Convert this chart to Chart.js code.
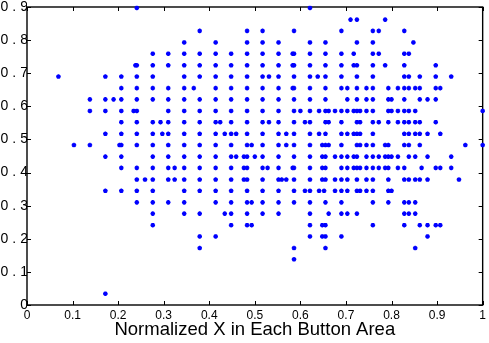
<!DOCTYPE html>
<html>
<head>
<meta charset="utf-8">
<script src="https://cdn.jsdelivr.net/npm/chart.js@4"></script>
<style>
    html, body { margin: 0; padding: 0; background: #fff; overflow: hidden; }
    #wrap { position: absolute; left: -12px; top: 0; }
</style>
</head>
<body>
<div id="wrap"><canvas id="scatterChart" width="501" height="343"></canvas></div>
<script>
// one entry per row of clicks: the y value, then every x seen on that row
const rowY = [0.897, 0.862, 0.828, 0.793, 0.759, 0.724, 0.690, 0.655, 0.621, 0.586,
    0.552, 0.517, 0.483, 0.448, 0.414, 0.379, 0.345, 0.310, 0.276, 0.241,
    0.207, 0.172, 0.138, 0.034];

const rowX = [
    [0.241, 0.621],
    [0.710, 0.724, 0.786],
    [0.379, 0.483, 0.517, 0.586, 0.690, 0.759, 0.772, 0.828],
    [0.345, 0.414, 0.483, 0.517, 0.552, 0.621, 0.655, 0.724, 0.759, 0.848],
    [0.276, 0.310, 0.345, 0.379, 0.414, 0.448, 0.483, 0.517, 0.552, 0.583, 0.586, 0.621, 0.655, 0.690, 0.717, 0.759, 0.772, 0.828, 0.838],
    [0.238, 0.241, 0.276, 0.310, 0.345, 0.379, 0.414, 0.448, 0.483, 0.517, 0.552, 0.583, 0.586, 0.621, 0.655, 0.690, 0.717, 0.724, 0.759, 0.786, 0.828, 0.897],
    [0.069, 0.172, 0.207, 0.241, 0.276, 0.345, 0.379, 0.414, 0.448, 0.483, 0.517, 0.531, 0.552, 0.586, 0.621, 0.638, 0.655, 0.690, 0.724, 0.759, 0.828, 0.838, 0.862, 0.897, 0.931],
    [0.207, 0.241, 0.276, 0.310, 0.345, 0.366, 0.414, 0.448, 0.483, 0.517, 0.552, 0.583, 0.586, 0.621, 0.655, 0.690, 0.703, 0.724, 0.745, 0.759, 0.793, 0.814, 0.828, 0.838, 0.852, 0.862, 0.897, 0.907],
    [0.138, 0.172, 0.190, 0.207, 0.241, 0.276, 0.310, 0.345, 0.379, 0.414, 0.448, 0.483, 0.517, 0.552, 0.586, 0.621, 0.655, 0.703, 0.724, 0.745, 0.759, 0.793, 0.800, 0.828, 0.862, 0.879, 0.897],
    [0.138, 0.172, 0.207, 0.234, 0.241, 0.310, 0.345, 0.379, 0.414, 0.448, 0.483, 0.517, 0.552, 0.586, 0.600, 0.621, 0.641, 0.655, 0.662, 0.676, 0.690, 0.703, 0.717, 0.724, 0.731, 0.745, 0.759, 0.793, 0.800, 0.814, 0.828, 0.838, 0.852, 1.000],
    [0.207, 0.241, 0.276, 0.293, 0.310, 0.345, 0.379, 0.414, 0.424, 0.448, 0.483, 0.517, 0.531, 0.552, 0.586, 0.610, 0.621, 0.655, 0.662, 0.690, 0.724, 0.731, 0.759, 0.772, 0.793, 0.814, 0.828, 0.838, 0.852, 0.862, 0.897],
    [0.172, 0.207, 0.241, 0.276, 0.297, 0.310, 0.345, 0.379, 0.414, 0.434, 0.448, 0.459, 0.483, 0.517, 0.552, 0.569, 0.586, 0.621, 0.641, 0.655, 0.690, 0.703, 0.717, 0.724, 0.731, 0.759, 0.828, 0.838, 0.852, 0.862, 0.879, 0.907],
    [0.103, 0.138, 0.203, 0.207, 0.241, 0.276, 0.310, 0.345, 0.379, 0.414, 0.448, 0.483, 0.493, 0.517, 0.552, 0.569, 0.586, 0.621, 0.648, 0.655, 0.662, 0.690, 0.724, 0.731, 0.745, 0.759, 0.786, 0.793, 0.828, 0.838, 0.862, 0.962, 1.000],
    [0.172, 0.207, 0.276, 0.310, 0.345, 0.379, 0.414, 0.448, 0.459, 0.476, 0.483, 0.500, 0.517, 0.552, 0.586, 0.621, 0.648, 0.655, 0.676, 0.690, 0.703, 0.717, 0.724, 0.745, 0.759, 0.772, 0.786, 0.793, 0.800, 0.814, 0.838, 0.852, 0.879, 0.931],
    [0.207, 0.241, 0.276, 0.310, 0.324, 0.345, 0.379, 0.414, 0.448, 0.476, 0.483, 0.517, 0.528, 0.552, 0.583, 0.586, 0.621, 0.648, 0.655, 0.690, 0.703, 0.717, 0.724, 0.731, 0.745, 0.759, 0.772, 0.786, 0.793, 0.814, 0.828, 0.866, 0.897, 0.907, 0.931],
    [0.241, 0.259, 0.276, 0.310, 0.324, 0.345, 0.379, 0.414, 0.448, 0.476, 0.483, 0.517, 0.552, 0.559, 0.569, 0.586, 0.621, 0.648, 0.655, 0.676, 0.690, 0.703, 0.724, 0.745, 0.759, 0.793, 0.828, 0.838, 0.852, 0.862, 0.879, 0.948],
    [0.172, 0.207, 0.241, 0.276, 0.345, 0.379, 0.414, 0.448, 0.483, 0.517, 0.552, 0.586, 0.610, 0.621, 0.641, 0.652, 0.676, 0.690, 0.703, 0.724, 0.731, 0.745, 0.759, 0.793, 0.800],
    [0.241, 0.276, 0.310, 0.345, 0.414, 0.448, 0.483, 0.493, 0.517, 0.552, 0.586, 0.621, 0.655, 0.690, 0.759, 0.793, 0.828, 0.838, 0.852],
    [0.276, 0.345, 0.379, 0.434, 0.448, 0.483, 0.517, 0.552, 0.621, 0.662, 0.690, 0.703, 0.724, 0.828, 0.838, 0.852],
    [0.276, 0.448, 0.483, 0.493, 0.621, 0.648, 0.655, 0.759, 0.828, 0.862, 0.879, 0.897, 0.907],
    [0.379, 0.414, 0.621, 0.648, 0.655, 0.690, 0.879],
    [0.379, 0.586, 0.655, 0.852],
    [0.586],
    [0.172]
];

const xTickLabels = ['0', '0.1', '0.2', '0.3', '0.4', '0.5', '0.6', '0.7', '0.8', '0.9', '1'];
const yTickLabels = ['0', '0.1', '0.2', '0.3', '0.4', '0.5', '0.6', '0.7', '0.8', '0.9'];
const xTitle = 'Normalized X in Each Button Area';

const points = [];
rowY.forEach((y, i) => {
    rowX[i].forEach(x => points.push({ x: x, y: y }));
});

// matlab style box with ticks pointing inward on all four sides
const boxTicks = {
    id: 'boxTicks',
    beforeDatasetsDraw(chart) {
        const { ctx, chartArea: a, scales: { x, y } } = chart;
        ctx.save();
        ctx.strokeStyle = '#000';
        ctx.lineWidth = 1;
        ctx.beginPath();
        x.ticks.forEach(t => {
            const px = Math.round(x.getPixelForValue(t.value)) + 0.5;
            ctx.moveTo(px, a.bottom); ctx.lineTo(px, a.bottom - 4);
            ctx.moveTo(px, a.top); ctx.lineTo(px, a.top + 4);
        });
        y.ticks.forEach(t => {
            const py = Math.round(y.getPixelForValue(t.value)) + 0.5;
            ctx.moveTo(a.left, py); ctx.lineTo(a.left + 4, py);
            ctx.moveTo(a.right, py); ctx.lineTo(a.right - 4, py);
        });
        ctx.stroke();
        ctx.lineWidth = 1.4;
        ctx.strokeRect(a.left, a.top, a.right - a.left, a.bottom - a.top);
        ctx.restore();
    }
};

// the y labels in the picture are spaced out, so the leading 0 runs off the left edge
function spreadYLabels(scale) {
    scale.width = 39;
    if (scale._spread) return;
    const drawLabels = scale.drawLabels.bind(scale);
    scale.drawLabels = area => {
        scale.ctx.save();
        scale.ctx.letterSpacing = '4px';
        drawLabels(area);
        scale.ctx.restore();
    };
    scale._spread = true;
}

const ctx = document.getElementById('scatterChart').getContext('2d');
new Chart(ctx, {
    type: 'scatter',
    data: {
        datasets: [{
            data: points,
            pointStyle: 'star',
            pointRadius: 2.3,
            pointBorderWidth: 1.4,
            borderColor: '#0000ff',
            backgroundColor: '#0000ff',
            clip: false
        }]
    },
    options: {
        responsive: false,
        animation: false,
        layout: { padding: { top: 7, right: 1, left: 0, bottom: 0 } },
        plugins: {
            legend: { display: false },
            tooltip: { enabled: false }
        },
        scales: {
            x: {
                min: 0,
                max: 1,
                grid: { display: false, drawTicks: false },
                border: { display: false },
                afterFit: scale => { scale.height = 38; },
                ticks: {
                    stepSize: 0.1,
                    autoSkip: false,
                    maxRotation: 0,
                    padding: 3,
                    color: '#000',
                    font: { family: '"Liberation Sans", Arial, sans-serif', size: 12 },
                    callback: (v, i) => xTickLabels[i]
                },
                title: {
                    display: true,
                    text: xTitle,
                    color: '#000',
                    padding: { top: 0, bottom: 2 },
                    font: { family: '"Liberation Sans", Arial, sans-serif', size: 18.5 }
                }
            },
            y: {
                min: 0,
                max: 0.9,
                grid: { display: false, drawTicks: false },
                border: { display: false },
                afterFit: spreadYLabels,
                ticks: {
                    stepSize: 0.1,
                    autoSkip: false,
                    padding: -5,
                    color: '#000',
                    font: { family: '"Liberation Sans", Arial, sans-serif', size: 14 },
                    callback: (v, i) => yTickLabels[i]
                }
            }
        }
    },
    plugins: [boxTicks]
});
</script>
</body>
</html>
